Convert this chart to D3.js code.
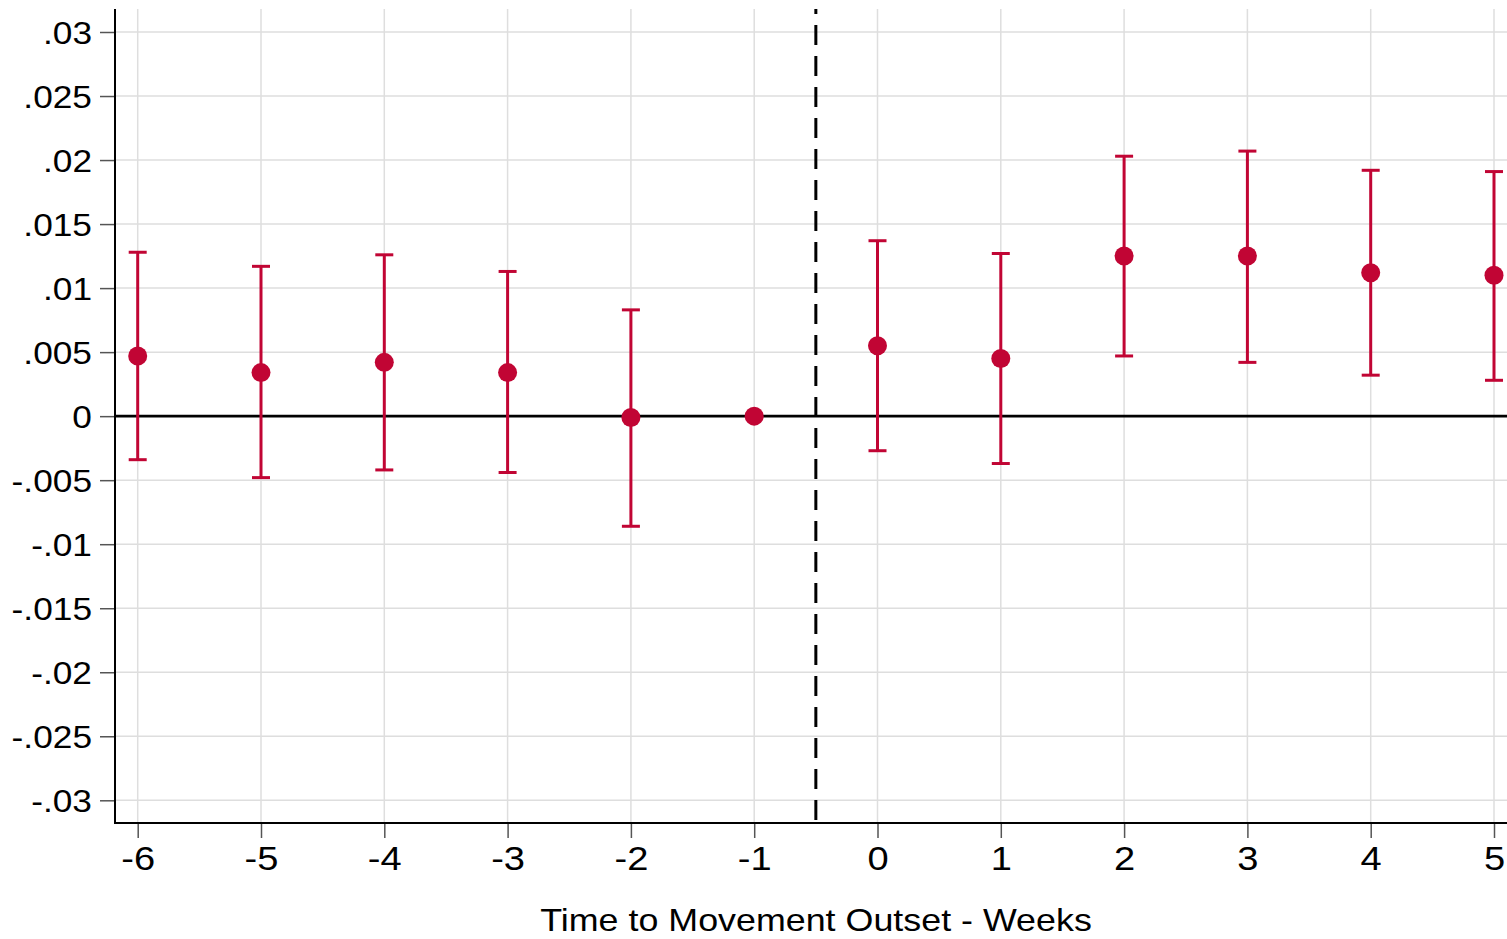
<!DOCTYPE html>
<html>
<head>
<meta charset="utf-8">
<script src="https://cdn.jsdelivr.net/npm/d3@7"></script>
<style>
  html, body { margin: 0; padding: 0; background: #fff; }
  svg { display: block; }
  text { font-family: "Liberation Sans", Arial, sans-serif; fill: #000; }
</style>
</head>
<body>
<svg id="chart" width="1507" height="939"></svg>
<script>
// Event-study estimates by week relative to movement outset
const weeks = [-6, -5, -4, -3, -2, -1, 0, 1, 2, 3, 4, 5];
const estimates = [0.0047, 0.0034, 0.0042, 0.0034, -0.0001, 0.0, 0.0055, 0.0045, 0.0125, 0.0125, 0.0112, 0.0110];
const ciLower = [-0.0034, -0.0048, -0.0042, -0.0044, -0.0086, 0.0, -0.0027, -0.0037, 0.0047, 0.0042, 0.0032, 0.0028];
const ciUpper = [0.0128, 0.0117, 0.0126, 0.0113, 0.0083, 0.0, 0.0137, 0.0127, 0.0203, 0.0207, 0.0192, 0.0191];
const yTicks = [0.03, 0.025, 0.02, 0.015, 0.01, 0.005, 0, -0.005, -0.01, -0.015, -0.02, -0.025, -0.03];
const yTickLabels = [".03", ".025", ".02", ".015", ".01", ".005", "0", "-.005", "-.01", "-.015", "-.02", "-.025", "-.03"];
const xTickLabels = ["-6", "-5", "-4", "-3", "-2", "-1", "0", "1", "2", "3", "4", "5"];
const xTitle = "Time to Movement Outset - Weeks";
const eventLine = -0.5;

(function () {
  const W = 1507;
  const plotLeft = 115, plotTop = 9, plotBottom = 823;
  const red = "#c10534";
  const grid = "#dedede";
  const stretch = 1.12;

  const svg = d3.select("#chart");
  const x = d3.scaleLinear().domain([-6, 5]).range([137.7, 1494]);
  const y = d3.scaleLinear().domain([-0.03, 0.03]).range([800.3, 32]);

  // gridlines
  svg.append("g").selectAll("line").data(yTicks).join("line")
    .attr("x1", plotLeft).attr("x2", W)
    .attr("y1", d => y(d)).attr("y2", d => y(d))
    .attr("stroke", grid).attr("stroke-width", 1.5);
  svg.append("g").selectAll("line").data(weeks).join("line")
    .attr("x1", d => x(d)).attr("x2", d => x(d))
    .attr("y1", plotTop).attr("y2", plotBottom)
    .attr("stroke", grid).attr("stroke-width", 1.5);

  // zero reference line
  svg.append("line")
    .attr("x1", plotLeft).attr("x2", W)
    .attr("y1", y(0)).attr("y2", y(0))
    .attr("stroke", "#000").attr("stroke-width", 2.6);

  // movement outset marker
  svg.append("line")
    .attr("x1", x(eventLine)).attr("x2", x(eventLine))
    .attr("y1", plotTop).attr("y2", plotBottom)
    .attr("stroke", "#000").attr("stroke-width", 3)
    .attr("stroke-dasharray", "20,11").attr("stroke-dashoffset", 15);

  // y axis
  const yAxis = d3.axisLeft(y).tickValues(yTicks).tickSize(15)
    .tickFormat((d, i) => yTickLabels[i]);
  const gy = svg.append("g").attr("transform", `translate(${plotLeft},0)`).call(yAxis);
  gy.select(".domain").remove();
  gy.selectAll(".tick line").attr("stroke", "#555").attr("stroke-width", 1.5);
  gy.selectAll(".tick text")
    .attr("x", null).attr("dy", null).attr("text-anchor", "end")
    .attr("font-size", 31.5)
    .attr("transform", `translate(-23,11.5) scale(${stretch},1)`)
    .style("font-family", '"Liberation Sans", Arial, sans-serif');
  svg.append("line").attr("x1", plotLeft).attr("x2", plotLeft)
    .attr("y1", plotTop).attr("y2", plotBottom + 1)
    .attr("stroke", "#000").attr("stroke-width", 2);

  // x axis
  const xAxis = d3.axisBottom(x).tickValues(weeks).tickSize(15)
    .tickFormat((d, i) => xTickLabels[i]);
  const gx = svg.append("g").attr("transform", `translate(0,${plotBottom})`).call(xAxis);
  gx.select(".domain").remove();
  gx.selectAll(".tick line").attr("stroke", "#555").attr("stroke-width", 1.5);
  gx.selectAll(".tick text")
    .attr("y", null).attr("dy", null).attr("text-anchor", "middle")
    .attr("font-size", 34)
    .attr("transform", `translate(0,47) scale(${stretch},1)`)
    .style("font-family", '"Liberation Sans", Arial, sans-serif');
  svg.append("line").attr("x1", plotLeft).attr("x2", W)
    .attr("y1", plotBottom).attr("y2", plotBottom)
    .attr("stroke", "#000").attr("stroke-width", 2);

  // axis title
  svg.append("text")
    .attr("text-anchor", "middle").attr("font-size", 32)
    .attr("transform", `translate(816,931) scale(${stretch},1)`)
    .text(xTitle);

  // confidence intervals
  const ci = svg.append("g").attr("stroke", red).attr("stroke-width", 3);
  weeks.forEach((w, i) => {
    if (ciUpper[i] === ciLower[i]) return;
    ci.append("line").attr("x1", x(w)).attr("x2", x(w))
      .attr("y1", y(ciLower[i])).attr("y2", y(ciUpper[i]));
    ci.append("line").attr("x1", x(w) - 9).attr("x2", x(w) + 9)
      .attr("y1", y(ciUpper[i])).attr("y2", y(ciUpper[i]));
    ci.append("line").attr("x1", x(w) - 9).attr("x2", x(w) + 9)
      .attr("y1", y(ciLower[i])).attr("y2", y(ciLower[i]));
  });

  // point estimates
  svg.append("g").selectAll("circle").data(weeks).join("circle")
    .attr("cx", d => x(d)).attr("cy", (d, i) => y(estimates[i]))
    .attr("r", 9.5).attr("fill", red);
})();
</script>
</body>
</html>
